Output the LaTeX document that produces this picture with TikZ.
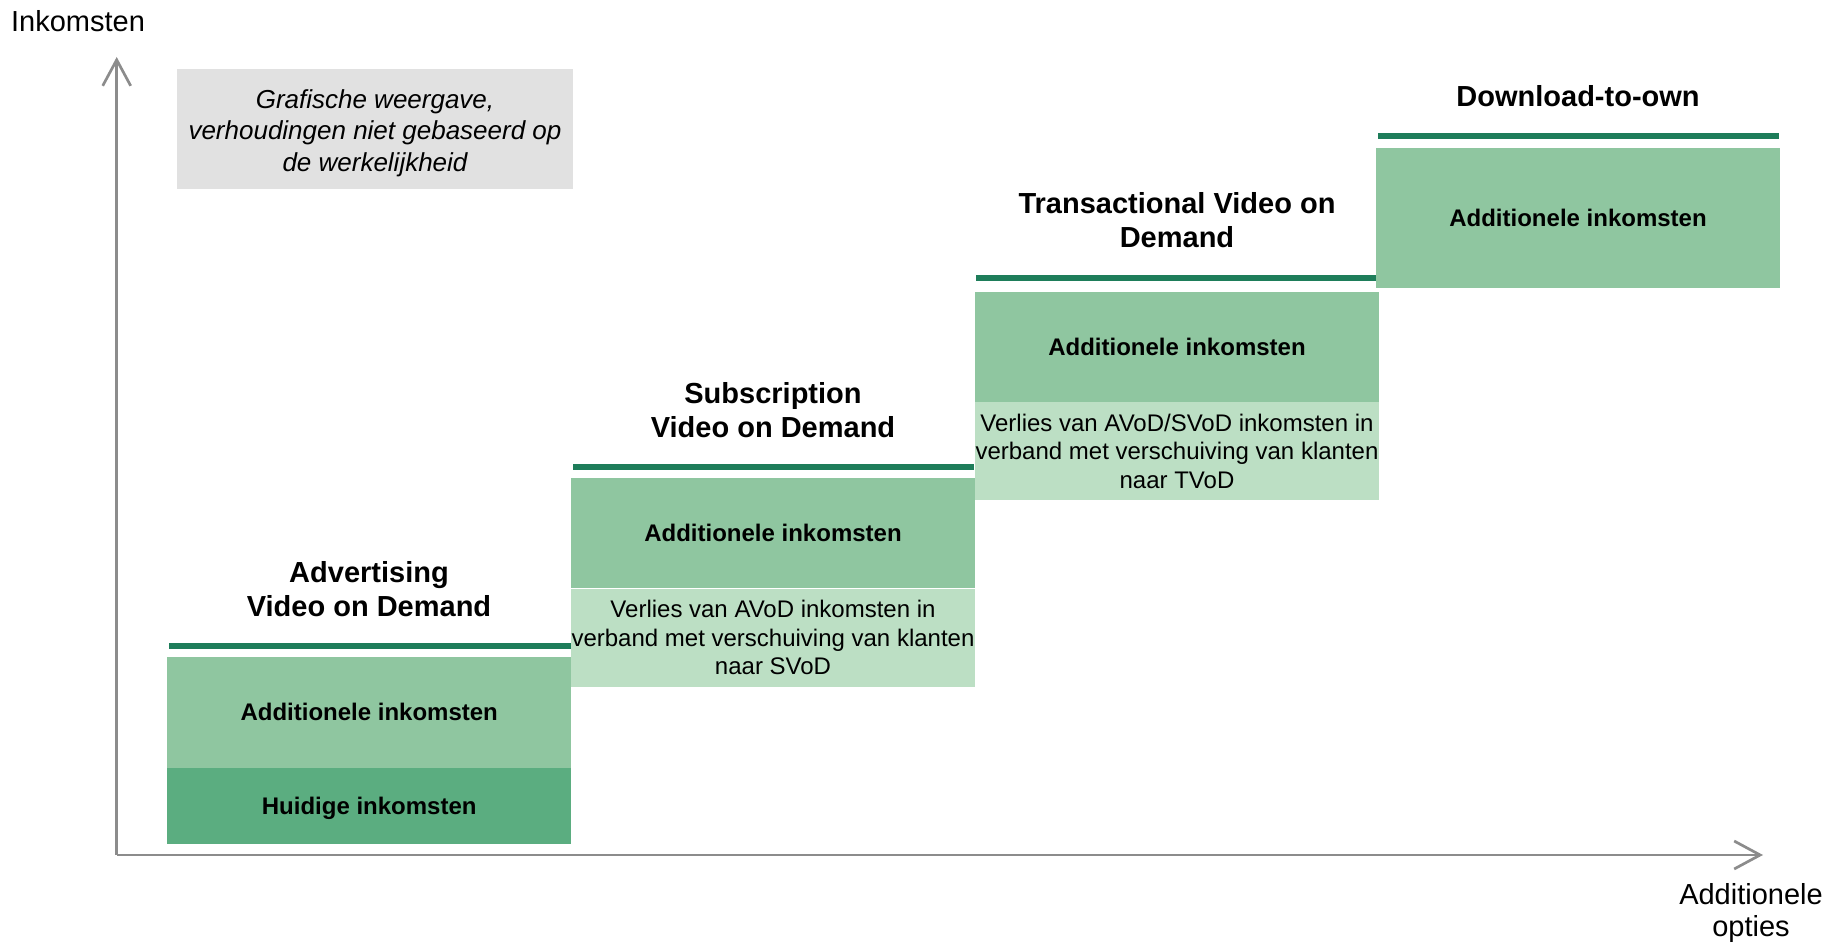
\documentclass[tikz,border=0pt]{standalone}
\usepackage{fontspec}
\setmainfont{Liberation Sans}
\usetikzlibrary{arrows.meta}

\definecolor{bargreen}{HTML}{1E7D5A}
\definecolor{addgreen}{HTML}{8FC6A0}
\definecolor{curgreen}{HTML}{5BAD80}
\definecolor{lossgreen}{HTML}{BCDFC4}
\definecolor{notegray}{HTML}{E1E1E1}
\definecolor{axisgray}{HTML}{8C8C8C}

\begin{document}
\begin{tikzpicture}[x=1pt,y=-1pt,
  headtxt/.style={align=center,inner sep=0pt,font=\fontsize{29}{34.5}\selectfont\bfseries},
  stepbar/.style={draw=bargreen,line width=5.7pt},
  addbox/.style={fill=addgreen,inner sep=0pt,minimum width=404pt,minimum height=110pt,text depth=0pt,font=\fontsize{24}{28.7}\selectfont\bfseries},
  curbox/.style={fill=curgreen,inner sep=0pt,minimum width=404pt,minimum height=76.6pt,text depth=0pt,font=\fontsize{24}{28.7}\selectfont\bfseries},
  lossbox/.style={fill=lossgreen,inner sep=0pt,minimum width=404pt,minimum height=98pt,align=center,font=\fontsize{24}{28.7}\selectfont},
  notetxt/.style={inner sep=0pt,align=center,font=\fontsize{26}{31.7}\selectfont\itshape},
  axisline/.style={draw=axisgray,line width=2.7pt,-{Straight Barb[length=26pt,width=28pt]}},
  axislabel/.style={inner sep=0pt,align=center,font=\fontsize{29}{32}\selectfont}]
\useasboundingbox (0,0) rectangle (1842,944);

% axes
\coordinate (o) at (116.7,855);
\coordinate (ytip) at (116.7,57);
\coordinate (xtip) at (1763,855);
\draw[axisline] (o) -- (ytip);
\draw[axisline] (o) -- (xtip);
\draw (78,31.5) node (ylab) [axislabel,anchor=base] {Inkomsten};
\draw (1751,883) node (xlab) [axislabel,anchor=north] {Additionele\\opties};

% note
\fill[notegray] (177,69.3) rectangle (573,189.3);
\draw (375,133) node (note) [notetxt] {Grafische weergave,\\verhoudingen niet gebaseerd op\\de werkelijkheid};

% AVoD
\draw (369,589) node (t1) [headtxt] {Advertising\\Video on Demand};
\draw[stepbar] (169,646) -- (571,646);
\draw (369.2,712.2) node (a1) [addbox,minimum height=111pt] {Additionele inkomsten};
\draw (369.2,806) node (h1) [curbox] {Huidige inkomsten};

% SVoD
\draw (773,409.9) node (t2) [headtxt] {Subscription\\Video on Demand};
\draw[stepbar] (573,467) -- (974,467);
\draw (773,532.7) node (a2) [addbox] {Additionele inkomsten};
\draw (773,637.5) node (v2) [lossbox] {Verlies van AVoD inkomsten in\\verband met verschuiving van klanten\\naar SVoD};

% TVoD
\draw (1177,220.3) node (t3) [headtxt] {Transactional Video on\\Demand};
\draw[stepbar] (976,278) -- (1378,278);
\draw (1177,346.9) node (a3) [addbox,minimum height=109.7pt] {Additionele inkomsten};
\draw (1177,451.2) node (v3) [lossbox,minimum height=98.3pt] {Verlies van AVoD/SVoD inkomsten in\\verband met verschuiving van klanten\\naar TVoD};

% DTO
\draw (1578,106.7) node (t4) [headtxt,anchor=base] {Download-to-own};
\draw[stepbar] (1378,136) -- (1779,136);
\draw (1578,218) node (a4) [addbox,minimum height=140pt] {Additionele inkomsten};

\end{tikzpicture}
\end{document}
